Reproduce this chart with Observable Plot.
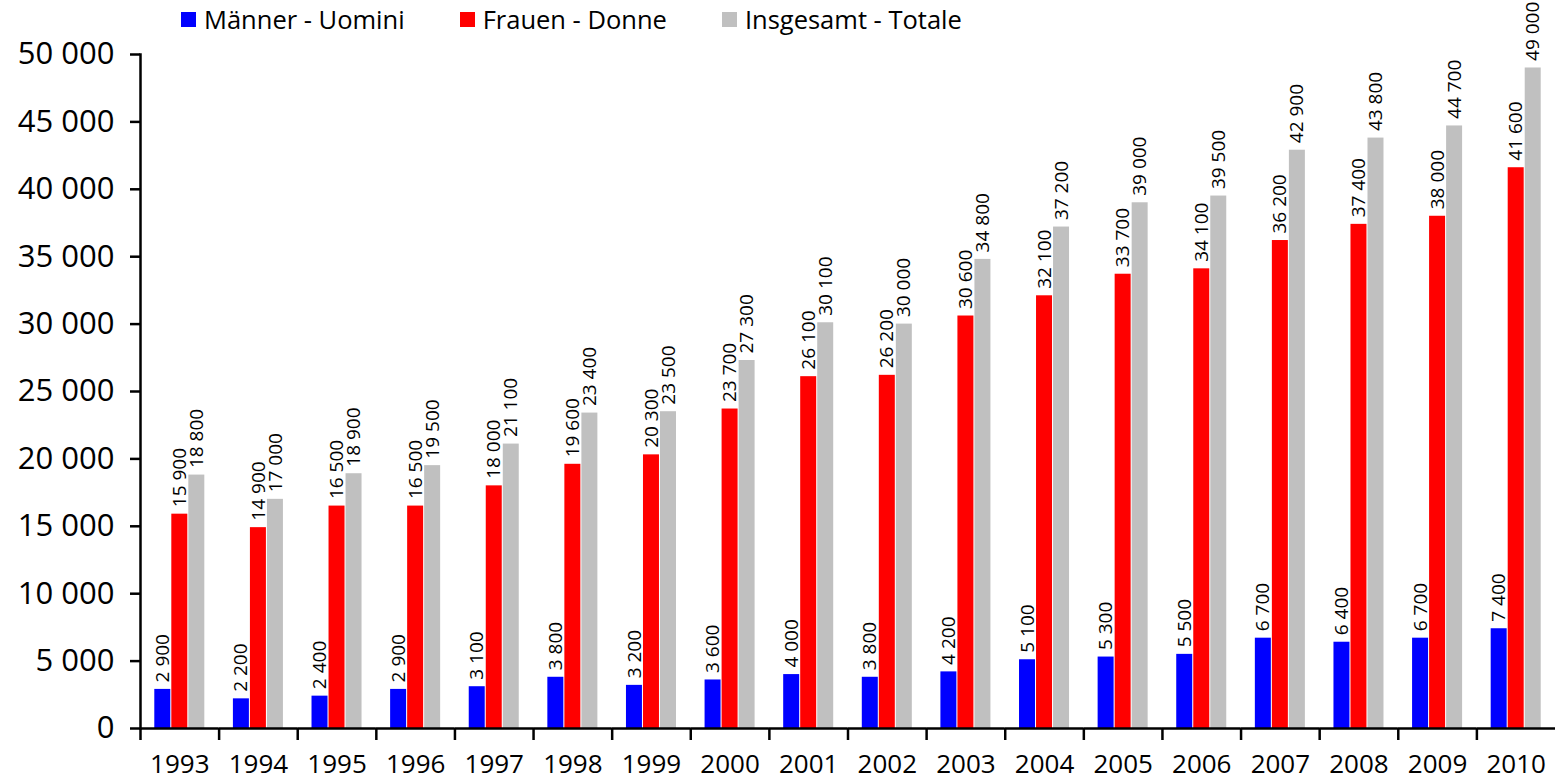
<!DOCTYPE html>
<html>
<head>
<meta charset="utf-8">
<script src="https://cdn.jsdelivr.net/npm/d3@7"></script>
<script src="https://cdn.jsdelivr.net/npm/@observablehq/plot@0.6"></script>
<style>
  html, body { margin: 0; padding: 0; background: #fff; }
  body { width: 1558px; height: 784px; position: relative; overflow: hidden; font-family: "Open Sans", sans-serif; }
  #legend { position: absolute; top: 2px; left: 181px; display: flex; align-items: center; font-size: 25.5px; color: #000; z-index: 2; }
  #legend .item { display: flex; align-items: center; margin-right: 55px; }
  #legend .sw { width: 15px; height: 15px; margin-right: 8px; }
  #chart svg { overflow: visible; }
</style>
</head>
<body>
<div id="legend"></div>
<div id="chart"></div>
<script>
const years = ["1993","1994","1995","1996","1997","1998","1999","2000","2001","2002","2003","2004","2005","2006","2007","2008","2009","2010"];
const series = ["Männer - Uomini", "Frauen - Donne", "Insgesamt - Totale"];
const colors = ["#0000ff", "#ff0000", "#c0c0c0"];
const men   = [2900, 2200, 2400, 2900, 3100, 3800, 3200, 3600, 4000, 3800, 4200, 5100, 5300, 5500, 6700, 6400, 6700, 7400];
const women = [15900, 14900, 16500, 16500, 18000, 19600, 20300, 23700, 26100, 26200, 30600, 32100, 33700, 34100, 36200, 37400, 38000, 41600];
const total = [18800, 17000, 18900, 19500, 21100, 23400, 23500, 27300, 30100, 30000, 34800, 37200, 39000, 39500, 42900, 43800, 44700, 49000];
const yTicks = [0, 5000, 10000, 15000, 20000, 25000, 30000, 35000, 40000, 45000, 50000];

const fmt = d3.formatLocale({thousands: " ", grouping: [3], decimal: ","}).format(",");
const rows = [];
years.forEach((yr, i) => {
  [men, women, total].forEach((arr, s) => rows.push({year: yr, series: series[s], value: arr[i]}));
});

const W = 1558, H = 784, mL = 140, mR = 3;
const step = (W - mL - mR) / years.length;

const chart = Plot.plot({
  width: W, height: H,
  marginTop: 54, marginBottom: 56, marginLeft: mL, marginRight: mR,
  style: {fontFamily: "Open Sans, sans-serif", color: "#000", background: "transparent"},
  fx: {domain: years, padding: 0, round: false, axis: null, label: null},
  x: {domain: series, paddingInner: 0.06, paddingOuter: 0.84, round: false, axis: null},
  y: {domain: [0, 50000], axis: null},
  color: {domain: series, range: colors},
  marks: [
    Plot.barY(rows, {fx: "year", x: "series", y: "value", fill: "series"}),
    Plot.text(rows, {fx: "year", x: "series", y: "value", text: d => fmt(d.value), rotate: -90, textAnchor: "start", dy: -7, fontSize: 19, fill: "#000"}),
    Plot.ruleY([0], {stroke: "#000", strokeWidth: 2.5}),
    Plot.frame({anchor: "left", facetAnchor: "left", stroke: "#000", strokeWidth: 2.5}),
    Plot.axisY({ticks: yTicks, tickFormat: fmt, tickSize: 10, tickPadding: 16, fontSize: 31, label: null, strokeWidth: 2.5}),
    Plot.axisFx({anchor: "bottom", tickSize: 12, tickFormat: () => "", dx: -step / 2, label: null, strokeWidth: 2.5}),
    Plot.axisFx({anchor: "bottom", tickSize: 0, tickPadding: 26, fontSize: 26, label: null})
  ]
});
document.getElementById("chart").appendChild(chart);

const legend = document.getElementById("legend");
series.forEach((s, i) => {
  const it = document.createElement("div");
  it.className = "item";
  const sw = document.createElement("span");
  sw.className = "sw";
  sw.style.background = colors[i];
  const t = document.createElement("span");
  t.textContent = s;
  it.appendChild(sw); it.appendChild(t);
  legend.appendChild(it);
});
</script>
</body>
</html>
